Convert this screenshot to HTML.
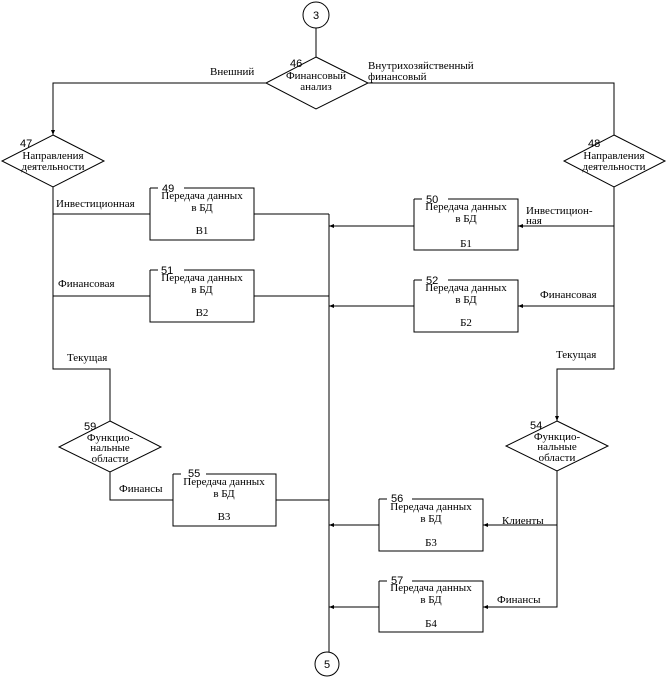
<!DOCTYPE html>
<html><head><meta charset="utf-8"><style>
body{margin:0;background:#fff}
svg{display:block}
text{font-family:"Liberation Serif","DejaVu Serif",serif;font-size:11px;fill:#000}
.n{font-family:"Liberation Sans",sans-serif;font-size:11px}
</style></head><body>
<svg width="667" height="678" viewBox="0 0 667 678" xmlns="http://www.w3.org/2000/svg">
<defs><marker id="a" markerWidth="6" markerHeight="6" refX="5" refY="3" orient="auto"><path d="M0,1 L5,3 L0,5z" fill="#000"/></marker></defs>
<g fill="none" stroke="#000" stroke-width="1">
<circle cx="316" cy="15" r="13"/>
<line x1="316" y1="28" x2="316" y2="57"/>
<polygon points="316,57 368,83 316,109 266,83"/>
<polyline points="266,83 53,83 53,135" marker-end="url(#a)"/>
<polyline points="368,83 614,83 614,135"/>
<polygon points="53,135 104,161 53,187 2,161"/>
<polygon points="614,135 665,161 614,187 564,161"/>
<polyline points="53,187 53,369 110,369 110,421"/>
<polyline points="614,187 614,369 557,369 557,421" marker-end="url(#a)"/>
<polygon points="110,421 161,447 110,472 59,447"/>
<polygon points="557,421 608,446 557,471 506,446"/>
<polyline points="110,472 110,500 173,500"/>
<polyline points="557,471 557,607 483,607" marker-end="url(#a)"/>
<line x1="557" y1="525" x2="483" y2="525" marker-end="url(#a)"/>
<line x1="53" y1="214" x2="150" y2="214"/>
<line x1="254" y1="214" x2="329" y2="214"/>
<line x1="53" y1="296" x2="150" y2="296"/>
<line x1="254" y1="296" x2="329" y2="296"/>
<line x1="276" y1="500" x2="329" y2="500"/>
<line x1="614" y1="226" x2="518" y2="226" marker-end="url(#a)"/>
<line x1="414" y1="226" x2="329" y2="226" marker-end="url(#a)"/>
<line x1="614" y1="306" x2="518" y2="306" marker-end="url(#a)"/>
<line x1="414" y1="306" x2="329" y2="306" marker-end="url(#a)"/>
<line x1="379" y1="525" x2="329" y2="525" marker-end="url(#a)"/>
<line x1="379" y1="607" x2="329" y2="607" marker-end="url(#a)"/>
<line x1="329" y1="214" x2="329" y2="652"/>
<circle cx="327" cy="664" r="12"/>
<path d="M150,188 V240 H254 V188 H184 M150,188 H158"/>
<path d="M414,199 V250 H518 V199 H448 M414,199 H422"/>
<path d="M150,270 V322 H254 V270 H184 M150,270 H158"/>
<path d="M414,280 V332 H518 V280 H448 M414,280 H422"/>
<path d="M173,474 V526 H276 V474 H206 M173,474 H181"/>
<path d="M379,499 V551 H483 V499 H412 M379,499 H387"/>
<path d="M379,581 V632 H483 V581 H412 M379,581 H387"/>
</g>
<g text-anchor="middle">
<text x="316" y="19" class="n">3</text>
<text x="327" y="668" class="n">5</text>
<text x="316" y="79">Финансовый</text><text x="316" y="90">анализ</text>
<text x="53" y="159">Направления</text><text x="53" y="170">деятельности</text>
<text x="614" y="159">Направления</text><text x="614" y="170">деятельности</text>
<text x="110" y="441">Функцио-</text><text x="110" y="451">нальные</text><text x="110" y="462">области</text>
<text x="557" y="440">Функцио-</text><text x="557" y="450">нальные</text><text x="557" y="461">области</text>
<text x="202" y="199">Передача данных</text><text x="202" y="211">в БД</text><text x="202" y="234">В1</text>
<text x="466" y="210">Передача данных</text><text x="466" y="222">в БД</text><text x="466" y="247">Б1</text>
<text x="202" y="281">Передача данных</text><text x="202" y="293">в БД</text><text x="202" y="316">В2</text>
<text x="466" y="291">Передача данных</text><text x="466" y="303">в БД</text><text x="466" y="326">Б2</text>
<text x="224" y="485">Передача данных</text><text x="224" y="497">в БД</text><text x="224" y="520">В3</text>
<text x="431" y="510">Передача данных</text><text x="431" y="522">в БД</text><text x="431" y="546">Б3</text>
<text x="431" y="591">Передача данных</text><text x="431" y="603">в БД</text><text x="431" y="627">Б4</text>
</g>
<g class="n">
<text x="290" y="67" class="n">46</text>
<text x="20" y="147" class="n">47</text>
<text x="588" y="147" class="n">48</text>
<text x="84" y="430" class="n">59</text>
<text x="530" y="429" class="n">54</text>
<text x="162" y="192" class="n">49</text>
<text x="426" y="203" class="n">50</text>
<text x="161" y="274" class="n">51</text>
<text x="426" y="284" class="n">52</text>
<text x="188" y="477" class="n">55</text>
<text x="391" y="502" class="n">56</text>
<text x="391" y="584" class="n">57</text>
</g>
<text x="210" y="75">Внешний</text>
<text x="368" y="69">Внутрихозяйственный</text>
<text x="368" y="80">финансовый</text>
<text x="56" y="207">Инвестиционная</text>
<text x="58" y="287">Финансовая</text>
<text x="67" y="361">Текущая</text>
<text x="119" y="492">Финансы</text>
<text x="526" y="214">Инвестицион-</text>
<text x="526" y="224">ная</text>
<text x="540" y="298">Финансовая</text>
<text x="556" y="358">Текущая</text>
<text x="502" y="524">Клиенты</text>
<text x="497" y="603">Финансы</text>
</svg>
</body></html>
